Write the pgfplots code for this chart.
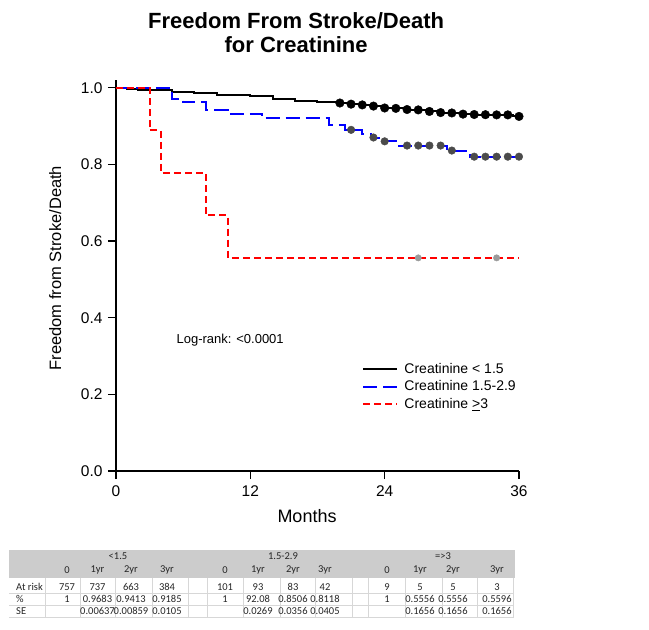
\documentclass[border=0pt]{standalone}
\usepackage{pgfplots}
\pgfplotsset{compat=1.18}
\usepackage{fontspec}
\setmainfont{Liberation Sans}
\newfontfamily\tablefont{Carlito}
\definecolor{kmblue}{RGB}{0,0,255}
\definecolor{kmred}{RGB}{255,0,0}
\definecolor{dotgray}{RGB}{75,75,75}
\definecolor{lightdot}{RGB}{155,155,155}
\definecolor{hdrgray}{RGB}{204,204,204}
\definecolor{gridgray}{RGB}{215,215,215}
\begin{document}
\begin{tikzpicture}
\path[use as bounding box, fill=white] (0pt,0pt) rectangle (649pt,-630pt);
\begin{axis}[
  at={(116pt,-471pt)}, anchor=south west,
  scale only axis, width=403pt, height=391pt,
  xmin=0, xmax=36, ymin=0, ymax=1.02,
  axis x line=bottom, axis y line=left,
  axis line style={-, line width=1.1pt},
  tick align=outside, major tick length=8pt,
  xtick={0,12,24,36}, ytick={0,0.2,0.4,0.6,0.8,1.0},
  tick style={line width=1.1pt, black},
  ticklabel style={font=\fontsize{15.5}{18}\selectfont},
  /pgf/number format/assume math mode=true,
  yticklabel style={xshift=-2pt, /pgf/number format/fixed, /pgf/number format/fixed zerofill, /pgf/number format/precision=1},
  xticklabel style={yshift=-3pt},
  xlabel={Months},
  xlabel style={font=\fontsize{18}{21}\selectfont, at={(axis description cs:0.474,-0.115)}, anchor=center},
  ylabel={Freedom from Stroke/Death},
  ylabel style={font=\fontsize{16.5}{19}\selectfont, at={(axis description cs:-0.151,0.519)}, anchor=center},
  title={Freedom From Stroke/Death\\for Creatinine},
  title style={font=\bfseries\fontsize{22}{24}\selectfont, align=center, at={(axis description cs:0.447,1.107)}, anchor=center},
  legend style={at={(axis cs:22.0,0.287)}, anchor=north west, draw=none, fill=none,
    font=\fontsize{14}{16}\selectfont, row sep=2pt, inner sep=0pt,
    /tikz/every odd column/.append style={column sep=4pt}},
  legend cell align=left,
  legend image code/.code={\draw[#1] (0pt,0pt) -- (34pt,0pt);},
]
\addplot[const plot, black, line width=2pt] coordinates {
 (0,1.000) (1,0.997) (2,0.994) (5,0.990) (7,0.986) (9,0.982) (12,0.977) (14,0.971)
 (16,0.966) (18,0.963) (20,0.960) (21,0.957) (22,0.955) (23,0.952) (24,0.947)
 (25,0.946) (26,0.943) (27,0.942) (28,0.938) (29,0.935) (30,0.934) (31,0.931)
 (32,0.930) (33,0.9295) (34,0.929) (35.5,0.925) (36,0.925)};
\addlegendentry{Creatinine < 1.5}
\addplot[const plot, kmblue, line width=2pt, dash pattern=on 14pt off 6pt] coordinates {
 (0,1.000) (5,0.971) (6,0.962) (8,0.943) (10,0.932) (13,0.921) (19,0.903)
 (20.5,0.890) (22,0.880) (22.8,0.870) (23.8,0.860) (25,0.849) (29.6,0.836)
 (31.6,0.820) (36,0.820)};
\addlegendentry{Creatinine 1.5-2.9}
\addplot[const plot, kmred, line width=2pt, dash pattern=on 7pt off 4pt] coordinates {
 (0,1.000) (3,0.889) (4,0.778) (8,0.667) (10,0.556) (36,0.556)};
\addlegendentry{Creatinine \underline{>}3}
\addplot[only marks, mark=*, mark size=4.3pt, black, forget plot] coordinates {
 (20,0.960) (21,0.957) (22,0.955) (23,0.952) (24,0.947) (25,0.946) (26,0.943)
 (27,0.942) (28,0.938) (29,0.935) (30,0.934) (31,0.931) (32,0.930) (33,0.9295)
 (34,0.929) (35,0.929) (36,0.925)};
\addplot[only marks, mark=*, mark size=3.8pt, dotgray, forget plot] coordinates {
 (21,0.890) (23,0.870) (24,0.860) (26,0.849) (27,0.849) (28,0.849) (29,0.849)
 (30,0.836) (32,0.820) (33,0.820) (34,0.820) (35,0.820) (36,0.820)};
\addplot[only marks, mark=*, mark size=3.2pt, lightdot, forget plot] coordinates {
 (27,0.556) (34,0.556)};
\node[anchor=west, font=\fontsize{13}{15}\selectfont] at (axis cs:5.1,0.342) {Log-rank: <0.0001};
\end{axis}
% risk table
\fill[hdrgray] (9pt,-550pt) rectangle (515pt,-578pt);
\foreach \x in {45,80,115,152,188,207,243,280,315,352,368,405,442,477,513}
  \draw[gridgray, line width=0.6pt] (\x pt,-578pt) -- (\x pt,-618pt);
\foreach \y in {593,605,617}
  \draw[gridgray, line width=0.6pt] (9pt,-\y pt) -- (513pt,-\y pt);
\begin{scope}[every node/.style={font=\tablefont\fontsize{10.5}{12}\selectfont, inner sep=0pt, text=black!85}]
\node at (118pt,-556pt) {<1.5};
\node at (283pt,-556pt) {1.5-2.9};
\node at (443pt,-556pt) {=>3};
\foreach \c/\x in {0/67,1yr/97.5,2yr/131,3yr/167,0/225,1yr/258,2yr/293,3yr/325,0/387,1yr/420,2yr/453,3yr/497}
  \node at (\x pt,-570pt) {\c};
\node[anchor=west] at (16pt,-587pt) {At risk};
\node[anchor=west] at (16pt,-599pt) {\%};
\node[anchor=west] at (16pt,-611pt) {SE};
\foreach \c/\x in {757/67,737/97.5,663/131,384/167,101/225,93/258,83/293,42/325,9/387,5/420,5/453,3/497}
  \node at (\x pt,-587pt) {\c};
\foreach \c/\x in {1/67,0.9683/97.5,0.9413/131,0.9185/167,1/225,92.08/258,0.8506/293,0.8118/325,1/387,0.5556/420,0.5556/453,0.5596/497}
  \node at (\x pt,-599pt) {\c};
\foreach \c/\x in {0.00637/97.5,0.00859/131,0.0105/167,0.0269/258,0.0356/293,0.0405/325,0.1656/420,0.1656/453,0.1656/497}
  \node at (\x pt,-611pt) {\c};
\end{scope}
\end{tikzpicture}
\end{document}
